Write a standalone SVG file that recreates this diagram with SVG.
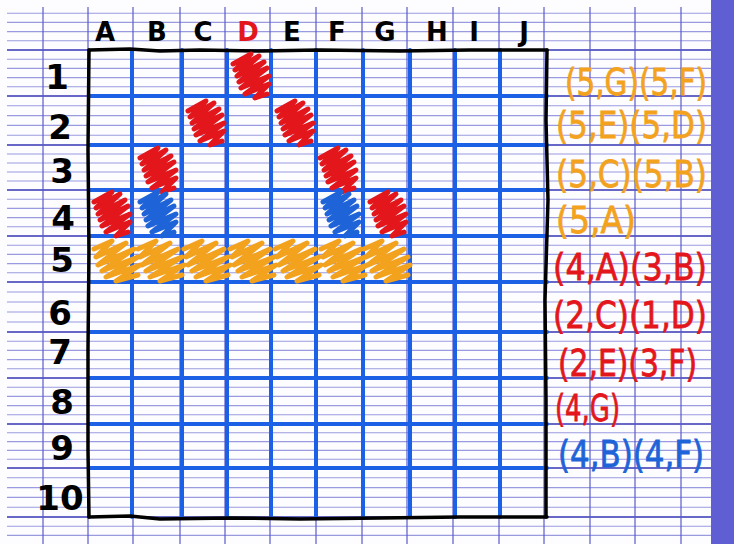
<svg xmlns="http://www.w3.org/2000/svg" width="734" height="544" viewBox="0 0 734 544">
<style>
.minor{stroke:#9a9ae0;stroke-width:1.1}
.major{stroke:#3434b4;stroke-width:1.5}
.vert{stroke:#5a5acc;stroke-width:1.2}
.grid{stroke:#1c60e6;stroke-width:4;stroke-linecap:round}
.border{stroke:#000;stroke-width:3.5;fill:none;stroke-linecap:round;stroke-linejoin:round}
.sc{fill:none;stroke-width:5;stroke-linecap:round;stroke-linejoin:round}
.red{stroke:#e3161c}
.blu{stroke:#1e64d8}
.org{stroke:#f3a21e}
.hdr{font-family:"DejaVu Sans",sans-serif;font-weight:bold;font-size:26px;text-anchor:middle;fill:#000}
.num{font-family:"DejaVu Sans",sans-serif;font-weight:bold;font-size:34px;text-anchor:middle;fill:#000}
.lbl{font-family:"DejaVu Sans",sans-serif;font-size:38px;stroke-width:0.8}
</style>
<defs>
<path id="scr" d="M4,12 L22,2 L6,18 L30,4 L8,24 L35,10 L10,30 L38,16 L12,36 L40,24 L16,42 L40,32 L26,46 L38,42"/>
<path id="scro" d="M2,12 L20,4 L4,20 L34,6 L6,28 L42,12 L10,34 L46,20 L14,40 L48,28 L24,44 L46,38"/>
</defs>
<rect x="0" y="0" width="734" height="544" fill="#fdfdff"/>
<rect x="711" y="0" width="23" height="544" fill="#5f5fd3"/>
<g id="paper">
<g class="minor">
<line x1="7" y1="13.2" x2="711" y2="13.2"/><line x1="7" y1="22.4" x2="711" y2="22.4"/><line x1="7" y1="31.6" x2="711" y2="31.6"/><line x1="7" y1="40.8" x2="711" y2="40.8"/>
<line x1="7" y1="59.2" x2="711" y2="59.2"/><line x1="7" y1="68.4" x2="711" y2="68.4"/><line x1="7" y1="77.6" x2="711" y2="77.6"/><line x1="7" y1="86.8" x2="711" y2="86.8"/>
<line x1="7" y1="105.8" x2="711" y2="105.8"/><line x1="7" y1="115.6" x2="711" y2="115.6"/><line x1="7" y1="125.4" x2="711" y2="125.4"/><line x1="7" y1="135.2" x2="711" y2="135.2"/>
<line x1="7" y1="154" x2="711" y2="154"/><line x1="7" y1="163" x2="711" y2="163"/><line x1="7" y1="172" x2="711" y2="172"/><line x1="7" y1="181" x2="711" y2="181"/>
<line x1="7" y1="199.2" x2="711" y2="199.2"/><line x1="7" y1="208.4" x2="711" y2="208.4"/><line x1="7" y1="217.6" x2="711" y2="217.6"/><line x1="7" y1="226.8" x2="711" y2="226.8"/>
<line x1="7" y1="245.2" x2="711" y2="245.2"/><line x1="7" y1="254.4" x2="711" y2="254.4"/><line x1="7" y1="263.6" x2="711" y2="263.6"/><line x1="7" y1="272.8" x2="711" y2="272.8"/>
<line x1="7" y1="292" x2="711" y2="292"/><line x1="7" y1="302" x2="711" y2="302"/><line x1="7" y1="312" x2="711" y2="312"/><line x1="7" y1="322" x2="711" y2="322"/>
<line x1="7" y1="341.2" x2="711" y2="341.2"/><line x1="7" y1="350.4" x2="711" y2="350.4"/><line x1="7" y1="359.6" x2="711" y2="359.6"/><line x1="7" y1="368.8" x2="711" y2="368.8"/>
<line x1="7" y1="387.2" x2="711" y2="387.2"/><line x1="7" y1="396.4" x2="711" y2="396.4"/><line x1="7" y1="405.6" x2="711" y2="405.6"/><line x1="7" y1="414.8" x2="711" y2="414.8"/>
<line x1="7" y1="432.8" x2="711" y2="432.8"/><line x1="7" y1="441.6" x2="711" y2="441.6"/><line x1="7" y1="450.4" x2="711" y2="450.4"/><line x1="7" y1="459.2" x2="711" y2="459.2"/>
<line x1="7" y1="477.8" x2="711" y2="477.8"/><line x1="7" y1="487.6" x2="711" y2="487.6"/><line x1="7" y1="497.4" x2="711" y2="497.4"/><line x1="7" y1="507.2" x2="711" y2="507.2"/>
<line x1="7" y1="526.2" x2="711" y2="526.2"/><line x1="7" y1="535.4" x2="711" y2="535.4"/>
</g>
<g class="major">
<line x1="7" y1="50" x2="711" y2="50"/><line x1="7" y1="96" x2="711" y2="96"/><line x1="7" y1="145" x2="711" y2="145"/><line x1="7" y1="190" x2="711" y2="190"/>
<line x1="7" y1="236" x2="711" y2="236"/><line x1="7" y1="282" x2="711" y2="282"/><line x1="7" y1="332" x2="711" y2="332"/><line x1="7" y1="378" x2="711" y2="378"/>
<line x1="7" y1="424" x2="711" y2="424"/><line x1="7" y1="468" x2="711" y2="468"/><line x1="7" y1="517" x2="711" y2="517"/>
</g>
<g class="vert">
<line x1="43" y1="7" x2="43" y2="544"/><line x1="88" y1="7" x2="88" y2="544"/><line x1="133" y1="7" x2="133" y2="544"/><line x1="180" y1="7" x2="180" y2="544"/>
<line x1="225" y1="7" x2="225" y2="544"/><line x1="270" y1="7" x2="270" y2="544"/><line x1="316" y1="7" x2="316" y2="544"/><line x1="362" y1="7" x2="362" y2="544"/>
<line x1="407" y1="7" x2="407" y2="544"/><line x1="453" y1="7" x2="453" y2="544"/><line x1="499" y1="7" x2="499" y2="544"/><line x1="544" y1="7" x2="544" y2="544"/>
<line x1="590" y1="7" x2="590" y2="544"/><line x1="635" y1="7" x2="635" y2="544"/><line x1="681" y1="7" x2="681" y2="544"/>
</g>
</g>
<g id="grid" class="grid">
<line x1="132" y1="50" x2="132" y2="517"/><line x1="182" y1="50" x2="182" y2="517"/><line x1="227" y1="50" x2="227" y2="517"/>
<line x1="271" y1="50" x2="271" y2="517"/><line x1="316" y1="50" x2="316" y2="517"/><line x1="363" y1="50" x2="363" y2="517"/>
<line x1="410" y1="50" x2="410" y2="517"/><line x1="455" y1="50" x2="455" y2="517"/><line x1="500" y1="50" x2="500" y2="517"/>
<line x1="89" y1="96" x2="547" y2="96"/><line x1="89" y1="145" x2="547" y2="145"/><line x1="89" y1="190" x2="547" y2="190"/>
<line x1="89" y1="236" x2="547" y2="236"/><line x1="89" y1="282" x2="547" y2="282"/><line x1="89" y1="332" x2="547" y2="332"/>
<line x1="89" y1="378" x2="547" y2="378"/><line x1="89" y1="424" x2="547" y2="424"/><line x1="89" y1="468" x2="547" y2="468"/>
</g>
<g id="border" class="border">
<path d="M89,50 L130,49 L160,51 L200,50 L260,51 L320,50 L400,51 L470,50 L547,50"/>
<path d="M547,50 L546,120 L548,200 L545,300 L546,400 L546,517"/>
<path d="M89,517 L130,516 L160,519 L230,518 L300,519 L380,518 L460,517 L547,517"/>
<path d="M89,50 L88,150 L89,250 L88,350 L88,450 L89,517"/>
</g>
<g id="fills">
<use href="#scr" class="sc red" transform="translate(229,52)"/>
<use href="#scr" class="sc red" transform="translate(184,99)"/>
<use href="#scr" class="sc red" transform="translate(273,99)"/>
<use href="#scr" class="sc red" transform="translate(136,146)"/>
<use href="#scr" class="sc red" transform="translate(316,146)"/>
<use href="#scr" class="sc red" transform="translate(90,190)"/>
<use href="#scr" class="sc red" transform="translate(366,190)"/>
<use href="#scr" class="sc blu" transform="translate(136,190)"/>
<use href="#scr" class="sc blu" transform="translate(319,190)"/>
<use href="#scro" class="sc org" transform="translate(92,237)"/>
<use href="#scro" class="sc org" transform="translate(136,237)"/>
<use href="#scro" class="sc org" transform="translate(182,237)"/>
<use href="#scro" class="sc org" transform="translate(228,237)"/>
<use href="#scro" class="sc org" transform="translate(273,237)"/>
<use href="#scro" class="sc org" transform="translate(319,237)"/>
<use href="#scro" class="sc org" transform="translate(362,237)"/>
</g>
<g id="headers">
<text class="hdr" x="105" y="41">A</text>
<text class="hdr" x="157" y="41">B</text>
<text class="hdr" x="203" y="41">C</text>
<text class="hdr" x="248" y="41" style="fill:#e3161c">D</text>
<text class="hdr" x="292" y="41">E</text>
<text class="hdr" x="337" y="41">F</text>
<text class="hdr" x="385" y="41">G</text>
<text class="hdr" x="437" y="41">H</text>
<text class="hdr" x="474" y="41">I</text>
<text class="hdr" x="524" y="41">J</text>
</g>
<g id="rows">
<text class="num" x="57" y="89">1</text>
<text class="num" x="60" y="139">2</text>
<text class="num" x="62" y="183">3</text>
<text class="num" x="63" y="230">4</text>
<text class="num" x="62" y="272">5</text>
<text class="num" x="60" y="325">6</text>
<text class="num" x="60" y="364">7</text>
<text class="num" x="62" y="414">8</text>
<text class="num" x="62" y="460">9</text>
<text class="num" x="60" y="510">10</text>
</g>
<g id="labels" class="lbl">
<text x="565" y="95" fill="#f3a21e" stroke="#f3a21e" textLength="142" lengthAdjust="spacingAndGlyphs">(5,G)(5,F)</text>
<text x="556" y="138" fill="#f3a21e" stroke="#f3a21e" textLength="151" lengthAdjust="spacingAndGlyphs">(5,E)(5,D)</text>
<text x="556" y="187" fill="#f3a21e" stroke="#f3a21e" textLength="151" lengthAdjust="spacingAndGlyphs">(5,C)(5,B)</text>
<text x="556" y="233" fill="#f3a21e" stroke="#f3a21e" textLength="80" lengthAdjust="spacingAndGlyphs">(5,A)</text>
<text x="553" y="280" fill="#e3161c" stroke="#e3161c" textLength="154" lengthAdjust="spacingAndGlyphs">(4,A)(3,B)</text>
<text x="553" y="328" fill="#e3161c" stroke="#e3161c" textLength="154" lengthAdjust="spacingAndGlyphs">(2,C)(1,D)</text>
<text x="558" y="376" fill="#e3161c" stroke="#e3161c" textLength="139" lengthAdjust="spacingAndGlyphs">(2,E)(3,F)</text>
<text x="555" y="421" fill="#e3161c" stroke="#e3161c" textLength="65" lengthAdjust="spacingAndGlyphs">(4,G)</text>
<text x="558" y="467" fill="#1e64d8" stroke="#1e64d8" textLength="146" lengthAdjust="spacingAndGlyphs">(4,B)(4,F)</text>
</g>
</svg>
